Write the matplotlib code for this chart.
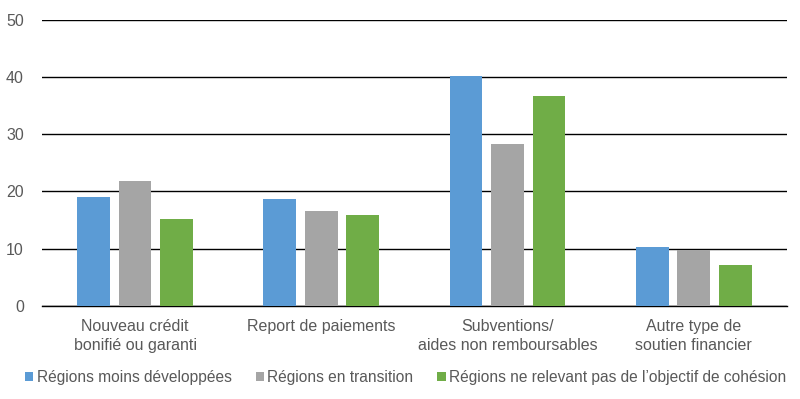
import matplotlib.pyplot as plt
import numpy as np

plt.rcParams['font.family'] = ['Liberation Sans', 'DejaVu Sans']

categories = ["Nouveau crédit\nbonifié ou garanti", "Report de paiements",
              "Subventions/\naides non remboursables", "Autre type de\nsoutien financier"]
series_names = ["Régions moins développées", "Régions en transition",
                "Régions ne relevant pas de l\u2019objectif de cohésion"]
moins_dev = [19.1, 18.7, 40.1, 10.3]
transition = [21.9, 16.6, 28.2, 9.7]
hors_cohesion = [15.2, 15.9, 36.7, 7.2]
colors = ["#5B9BD5", "#A5A5A5", "#70AD47"]

fig = plt.figure(figsize=(8, 3.99), dpi=100)
ax = fig.add_axes([0.0525, 0.233, 0.931, 0.718])

x = np.arange(len(categories))
w = 0.176
step = 0.223
for i, (vals, name) in enumerate(zip([moins_dev, transition, hors_cohesion], series_names)):
    ax.bar(x + (i - 1) * step, vals, width=w, color=colors[i], label=name, zorder=3)

ax.set_xlim(-0.5, len(categories) - 0.5)
ax.set_ylim(0, 50)
ax.set_yticks(range(0, 51, 10))
ax.yaxis.grid(True, color="#000000", linewidth=1.0, zorder=0)
for s in ["top", "right", "left"]:
    ax.spines[s].set_visible(False)
ax.spines["bottom"].set_color("#000000")
ax.spines["bottom"].set_linewidth(1.0)
ax.tick_params(axis="both", length=0, labelsize=11.5, colors="#595959")
ax.tick_params(axis="y", pad=13)
ax.tick_params(axis="x", pad=9)
ax.set_xticks(x)
ax.set_xticklabels(categories, linespacing=1.35)

fig.legend(loc="lower center", bbox_to_anchor=(0.507, 0.0), ncol=3, frameon=False,
           fontsize=11.2, handlelength=0.55, handleheight=0.55, handletextpad=0.2,
           columnspacing=1.55, labelcolor="#595959")

fig.savefig("out.png", dpi=100)
